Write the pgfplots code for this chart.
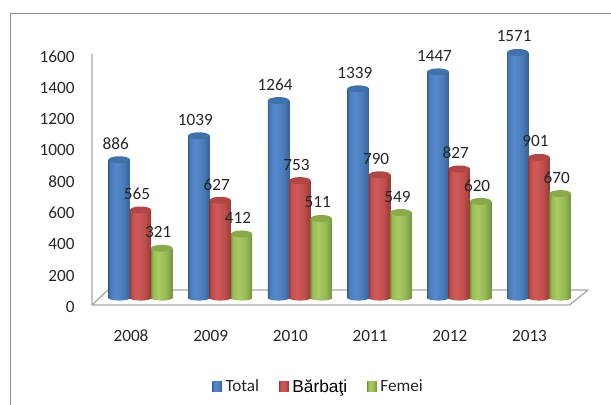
\documentclass[border=0pt]{standalone}
\usepackage{pgfplots}
\usepackage{fontspec}
\pgfplotsset{compat=1.18}
\setmainfont{Carlito}
\newfontfamily\arialf{Liberation Sans}
\definecolor{txt}{HTML}{262626}
\definecolor{lgrey}{HTML}{A6A6A6}
\definecolor{frameg}{HTML}{8C8C8C}
\definecolor{bE}{HTML}{36639A}
\definecolor{bM}{HTML}{4A7CB8}
\definecolor{bC}{HTML}{5689CC}
\definecolor{bT}{HTML}{3F72AD}
\definecolor{bL}{HTML}{4F81BD}
\definecolor{rE}{HTML}{9A3A38}
\definecolor{rM}{HTML}{BE4F4C}
\definecolor{rC}{HTML}{D05A59}
\definecolor{rT}{HTML}{B04744}
\definecolor{rL}{HTML}{C0504D}
\definecolor{gE}{HTML}{76933E}
\definecolor{gM}{HTML}{98B956}
\definecolor{gC}{HTML}{A9CB62}
\definecolor{gT}{HTML}{8AA94B}
\definecolor{gL}{HTML}{9BBB59}
\newcommand{\cylmarks}[1]{%
  \pgfdeclarehorizontalshading{cyl#1}{100bp}{color(0bp)=(#1E); color(25bp)=(#1E); color(29bp)=(#1M); color(42bp)=(#1C); color(60bp)=(#1M); color(75bp)=(#1E); color(100bp)=(#1E)}%
  \pgfdeclareplotmark{top#1}{%
    \path[draw=none, fill=#1T] (0bp,0bp) ellipse [x radius=10.7bp, y radius=3.5bp];}%
  \pgfdeclareplotmark{bot#1}{%
    \path[draw=none, shading=cyl#1]
      (-10.65bp,0.5bp) arc[start angle=180, end angle=360, x radius=10.65bp, y radius=2.6bp] -- cycle;}%
}
\cylmarks{b}\cylmarks{r}\cylmarks{g}
% one cylinder: colour letter, shift, category position, value, extra options of the bar
\newcommand{\cyl}[5]{%
  \addplot[forget plot, draw=none, only marks, mark=bot#1, mark options={xshift=#2bp, draw=none}] coordinates {(#3,0)};
  \addplot[ybar, bar width=21.3bp, bar shift=#2bp, draw=none, shading=cyl#1,
    nodes near coords, every node near coord/.append style={xshift=#2bp}, #5,
    legend image code/.code={\fill[#1L] (0bp,-4.9bp) rectangle (9.7bp,4.9bp);}] coordinates {(#3,#4)};
  \addplot[forget plot, draw=none, only marks, mark=top#1, mark options={xshift=#2bp, draw=none}] coordinates {(#3,#4)};
}
\begin{document}
\begin{tikzpicture}
\useasboundingbox (0,0) rectangle (611bp,405bp);
% outer frame
\draw[frameg, line width=1.4bp] (10.5bp,0) -- (10.5bp,391.3bp) -- (611bp,391.3bp);
% floor and wall
\draw[lgrey, line width=1.2bp, line join=round]
  (92bp,351bp) -- (92bp,100bp) -- (569.5bp,100bp) -- (588bp,115bp) -- (108bp,115bp) -- (92bp,100bp);
\begin{axis}[
  at={(92bp,106.5bp)}, anchor=south west,
  scale only axis, width=480bp, height=250.56bp,
  xmin=-0.6085, xmax=5.414, ymin=0, ymax=1600,
  clip=false,
  axis line style={draw=none},
  tick style={draw=none},
  axis x line*=bottom, axis y line*=left,
  xtick={0,1,2,3,4,5},
  xticklabels={2008,2009,2010,2011,2012,2013},
  ytick={0,200,400,600,800,1000,1200,1400,1600},
  /pgf/number format/assume math mode=true,
  /pgf/number format/set thousands separator={},
  tick label style={font=\fontsize{17.2bp}{18bp}\selectfont, text=txt},
  yticklabel style={xshift=-14bp, yshift=-8.5bp},
  xticklabel style={xshift=-9.5bp, yshift=-28bp},
  every node near coord/.append style={font=\fontsize{17.2bp}{18bp}\selectfont, text=txt, anchor=center, xshift=-3.5bp, yshift=16bp, /pgf/number format/assume math mode=true, /pgf/number format/set thousands separator={}},
  legend columns=3,
  legend cell align=left,
  legend style={at={(axis description cs:0.472,-0.352)}, anchor=center, draw=none, fill=none,
    font=\fontsize{17.2bp}{18bp}\selectfont, text=txt,
    /tikz/every odd column/.append style={column sep=1.5bp},
    /tikz/every even column/.append style={column sep=18bp},
    row sep=0pt},
  every axis plot/.append style={line width=0pt},
]
% Total
\cyl{b}{-21.3}{0}{886}{}
\addlegendentry{Total}
\cyl{b}{-21.3}{1}{1039}{forget plot}
\cyl{b}{-21.3}{2}{1264}{forget plot}
\cyl{b}{-21.3}{3}{1339}{forget plot}
\cyl{b}{-21.3}{4}{1447}{forget plot}
\cyl{b}{-21.3}{5}{1571}{forget plot}
% Barbati
\cyl{r}{0}{0}{565}{}
\addlegendentry{{\arialf\color{black}\fontsize{17.3bp}{18bp}\selectfont Bărbaţi}}
\cyl{r}{0}{1}{627}{forget plot}
\cyl{r}{0}{2}{753}{forget plot}
\cyl{r}{0}{3}{790}{forget plot}
\cyl{r}{0}{4}{827}{forget plot}
\cyl{r}{0}{5}{901}{forget plot}
% Femei
\cyl{g}{21.3}{0}{321}{}
\addlegendentry{Femei}
\cyl{g}{21.3}{1}{412}{forget plot}
\cyl{g}{21.3}{2}{511}{forget plot}
\cyl{g}{21.3}{3}{549}{forget plot}
\cyl{g}{21.3}{4}{620}{forget plot}
\cyl{g}{21.3}{5}{670}{forget plot}
\end{axis}
\end{tikzpicture}
\end{document}
